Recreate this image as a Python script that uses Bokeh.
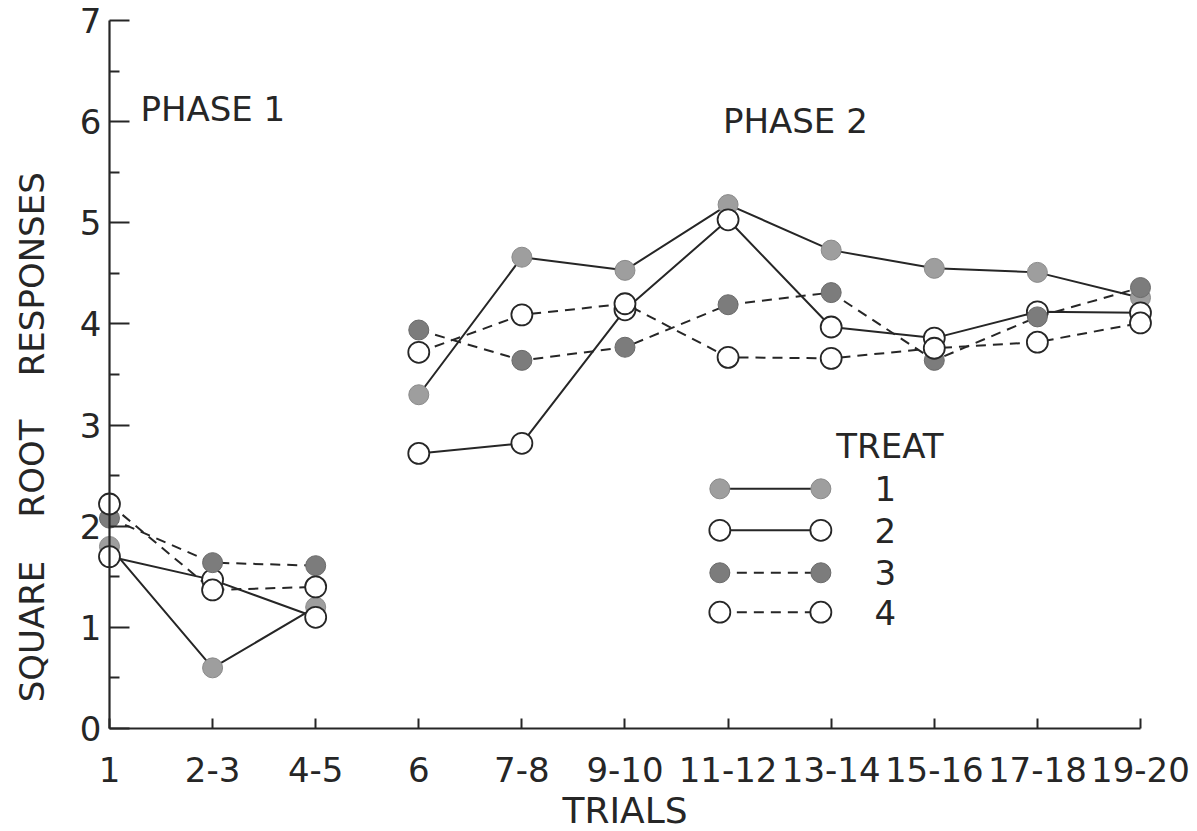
import math

from bokeh.plotting import figure
from bokeh.models import Range1d, FixedTicker, Label
from bokeh.embed import file_html
from bokeh.resources import INLINE

# Trial blocks along the x axis (phase 1 = first three blocks)
trials = ["1", "2-3", "4-5", "6", "7-8", "9-10", "11-12", "13-14", "15-16", "17-18", "19-20"]
phase1_blocks = 3

# Mean square-root responses per treatment group
treat1 = [1.80, 0.60, 1.20, 3.30, 4.66, 4.53, 5.18, 4.73, 4.55, 4.51, 4.26]
treat2 = [1.70, 1.47, 1.10, 2.72, 2.82, 4.14, 5.03, 3.97, 3.86, 4.12, 4.11]
treat3 = [2.08, 1.64, 1.61, 3.94, 3.64, 3.77, 4.19, 4.31, 3.64, 4.07, 4.36]
treat4 = [2.22, 1.37, 1.40, 3.72, 4.09, 4.20, 3.67, 3.66, 3.76, 3.82, 4.01]

treat_names = ["1", "2", "3", "4"]
y_ticks = [0, 1, 2, 3, 4, 5, 6, 7]
y_minor = [0.5, 1.5, 2.5, 3.5, 4.5, 5.5, 6.5]

FONT = "DejaVu Sans"
INK = "#262626"
SIZE = "34px"
GAP = "\u00a0" * 4  # wide word spacing in the lettered y title

# style per treatment: fill, edge, dash
styles = [
    dict(fill="#9e9e9e", edge="#8a8a8a", dash="solid"),
    dict(fill="white", edge=INK, dash="solid"),
    dict(fill="#7c7c7c", edge="#6a6a6a", dash="10 7"),
    dict(fill="white", edge=INK, dash="10 7"),
]
series = [treat1, treat2, treat3, treat4]

# the frame fills the whole canvas; both axes sit at the data origin
p = figure(width=1197, height=831, output_backend="svg", toolbar_location=None,
           x_range=Range1d(-1.057, 10.553), y_range=Range1d(-1.018, 7.198),
           min_border=0)
p.outline_line_color = None
p.grid.visible = False
p.background_fill_color = "white"
p.border_fill_color = "white"

xs = list(range(len(trials)))

# x axis, drawn at y = 0
xa = p.xaxis[0]
xa.fixed_location = 0
xa.bounds = (0, len(trials) - 1)
xa.ticker = FixedTicker(ticks=xs)
xa.major_label_overrides = {i: t for i, t in enumerate(trials)}
xa.major_tick_in = 10
xa.major_tick_out = 0
xa.major_label_standoff = 28
xa.axis_label = "TRIALS"
xa.axis_label_standoff = 5

# y axis, drawn at x = 0; its title is lettered separately below
ya = p.yaxis[0]
ya.fixed_location = 0
ya.bounds = (0, 7)
ya.ticker = FixedTicker(ticks=y_ticks, minor_ticks=y_minor)
ya.major_tick_in = 20
ya.major_tick_out = 0
ya.minor_tick_in = 10
ya.minor_tick_out = 0
ya.major_label_standoff = 8

for ax in (xa, ya):
    ax.axis_line_color = INK
    ax.axis_line_width = 2.2
    ax.major_tick_line_color = INK
    ax.major_tick_line_width = 2
    ax.minor_tick_line_width = 2
    ax.minor_tick_line_color = INK if ax is ya else None
    ax.major_label_text_font = FONT
    ax.major_label_text_font_size = SIZE
    ax.major_label_text_color = INK
    ax.axis_label_text_font = FONT
    ax.axis_label_text_font_size = "36px"
    ax.axis_label_text_font_style = "normal"
    ax.axis_label_text_color = INK

p.add_layout(Label(x=-0.747, y=2.88, angle=math.pi / 2,
                   text="SQUARE" + GAP + "ROOT" + GAP + "RESPONSES",
                   text_font=FONT, text_font_size=SIZE, text_color=INK,
                   text_align="center", text_baseline="middle"))

# connecting lines, separately for each phase
for vals, st in zip(series, styles):
    for lo, hi in ((0, phase1_blocks), (phase1_blocks, len(trials))):
        p.line(xs[lo:hi], vals[lo:hi], line_color=INK, line_width=2.0,
               line_dash=st["dash"])

# markers on top of the lines
for vals, st in zip(series, styles):
    open_marker = st["fill"] == "white"
    p.scatter(xs, vals, size=21 if open_marker else 20, marker="circle",
              fill_color=st["fill"], line_color=st["edge"],
              line_width=1.8 if open_marker else 1.0)

# phase headings
p.add_layout(Label(x=0.30, y=6.13, text="PHASE 1", text_font=FONT,
                   text_font_size=SIZE, text_color=INK, text_baseline="middle"))
p.add_layout(Label(x=5.95, y=6.01, text="PHASE 2", text_font=FONT,
                   text_font_size=SIZE, text_color=INK, text_baseline="middle"))

# key for the treatment groups
key_x0, key_x1, key_text_x = 5.92, 6.90, 7.42
key_rows = [2.37, 1.96, 1.54, 1.15]
p.add_layout(Label(x=7.05, y=2.79, text="TREAT", text_font=FONT,
                   text_font_size=SIZE, text_color=INK, text_baseline="middle"))
for name, ky, st in zip(treat_names, key_rows, styles):
    p.segment(x0=[key_x0], y0=[ky], x1=[key_x1], y1=[ky], line_color=INK,
              line_width=2.0, line_dash=st["dash"])
    open_marker = st["fill"] == "white"
    p.scatter([key_x0, key_x1], [ky, ky], size=21 if open_marker else 20,
              marker="circle", fill_color=st["fill"], line_color=st["edge"],
              line_width=1.8 if open_marker else 1.0)
    p.add_layout(Label(x=key_text_x, y=ky, text=name, text_font=FONT,
                       text_font_size=SIZE, text_color=INK,
                       text_baseline="middle"))

open("out.html", "w").write(file_html(p, INLINE))
